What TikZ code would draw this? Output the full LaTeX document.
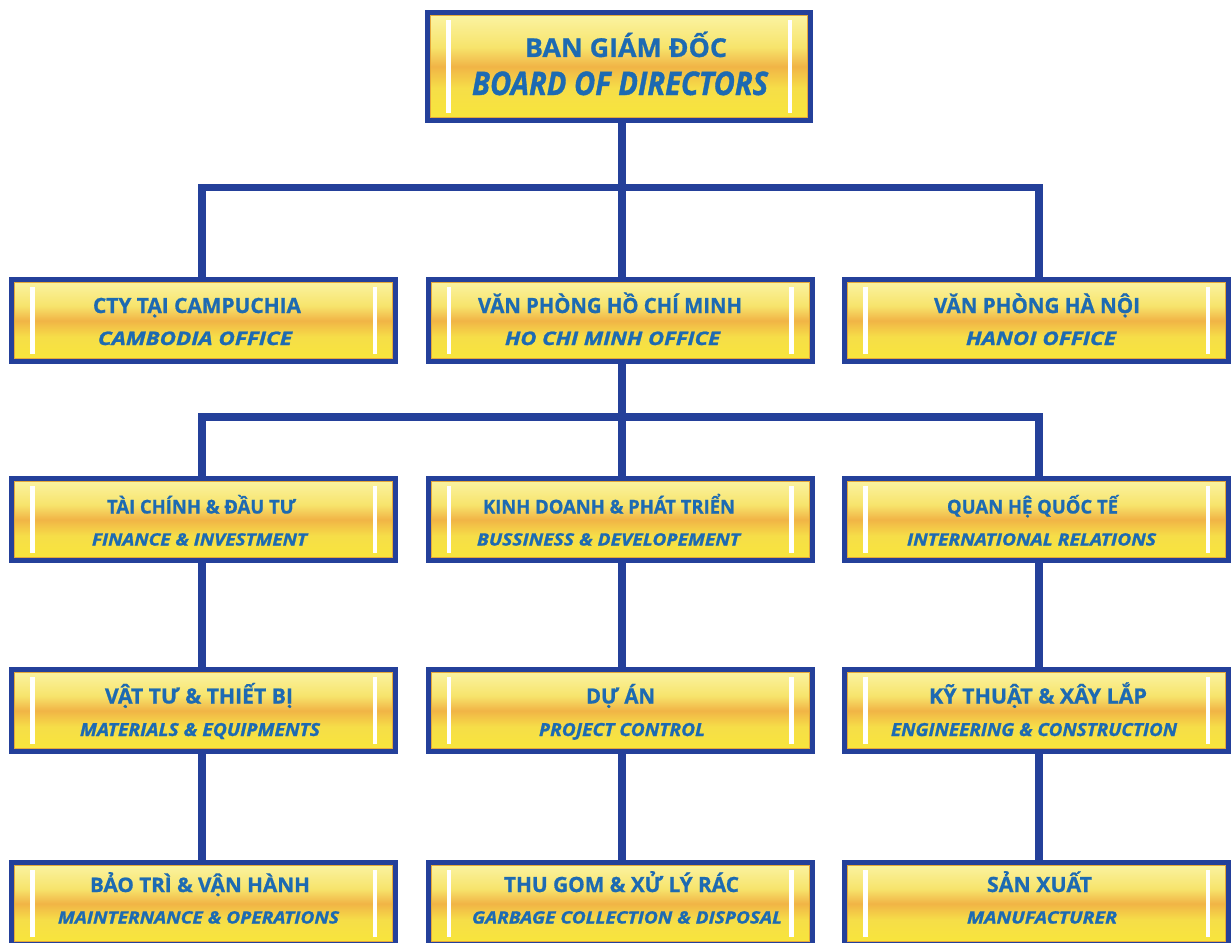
\documentclass[tikz,border=0pt]{standalone}
\usepackage{fontspec}
\setmainfont{Open Sans}[BoldFeatures={FakeBold=0.9}, BoldItalicFeatures={FakeBold=1.2}]
\usepackage{graphicx}
\definecolor{bblue}{HTML}{24409A}
\definecolor{tblue}{HTML}{1D6AB2}
\definecolor{ytop}{HTML}{FBF4A6}
\definecolor{ym2}{HTML}{F7E46C}
\definecolor{ymid}{HTML}{F1B446}
\definecolor{yb2}{HTML}{F6DE48}
\definecolor{ybot}{HTML}{F8E63A}
\definecolor{yorl}{HTML}{E4A83A}
\pgfdeclareverticalshading{boxshade}{100bp}{color(0bp)=(ybot); color(25bp)=(ybot); color(40bp)=(yb2); color(50bp)=(ymid); color(59bp)=(ym2); color(75bp)=(ytop); color(100bp)=(ytop)}
\pgfdeclarelayer{bg}
\pgfsetlayers{bg,main}
\newcommand\fitw[2]{\resizebox{#1pt}{\height}{#2}}
\newcommand\fsu[1]{\bfseries\fontsize{#1}{#1}\selectfont}
\newcommand\fsi[1]{\bfseries\itshape\fontsize{#1}{#1}\selectfont}
\tikzset{
  orgbox/.style={draw=bblue, line width=5pt, shading=boxshade, inner sep=0pt,
    minimum width=384pt, minimum height=82pt,
    path picture={
      \fill[white] ([shift={(18.5,7.5)}]path picture bounding box.north west) rectangle ([shift={(23,-7.5)}]path picture bounding box.south west);
      \fill[white] ([shift={(-18.5,7.5)}]path picture bounding box.north east) rectangle ([shift={(-23,-7.5)}]path picture bounding box.south east);
      \draw[yorl, line width=1pt] ([shift={(3,3)}]path picture bounding box.north west) rectangle ([shift={(-3,-3)}]path picture bounding box.south east);
    }},
  conn/.style={draw=bblue, line width=7.5pt},
  txt/.style={text=tblue, anchor=base, inner sep=0pt}
}
\begin{document}
\begin{tikzpicture}[x=1pt, y=-1pt]
\useasboundingbox (0,0) rectangle (1231,942);
\clip (0,0) rectangle (1231,942);
\coordinate (xL) at (202,0);
\coordinate (xR) at (1039,0);
\coordinate (jA) at (622,187.5);
\coordinate (jB) at (622,417);
% boxes
\node[orgbox, minimum width=383pt, minimum height=108pt] (top) at (619,66.5) {};
\node[orgbox] (cam) at (203.5,320.5) {};
\node[orgbox] (hcm) at (620,320.5) {};
\node[orgbox] (hn) at (1036.5,320.5) {};
\node[orgbox] (fi) at (203.5,519.5) {};
\node[orgbox] (kd) at (620,519.5) {};
\node[orgbox] (qh) at (1036.5,519.5) {};
\node[orgbox] (vt) at (203.5,710.5) {};
\node[orgbox] (da) at (620,710.5) {};
\node[orgbox] (kt) at (1036.5,710.5) {};
\node[orgbox] (bt) at (203.5,903.5) {};
\node[orgbox] (tg) at (620,903.5) {};
\node[orgbox] (sx) at (1036.5,903.5) {};
% connectors
\begin{pgfonlayer}{bg}
\draw[conn] (top.south -| jA) -- (hcm.north -| jA);
\draw[conn] (cam.north -| xL) |- (jA) -| (hn.north -| xR);
\draw[conn] (hcm.south -| jB) -- (kd.north -| jB);
\draw[conn] (fi.north -| xL) |- (jB) -| (qh.north -| xR);
\draw[conn] (fi.south -| xL) -- (vt.north -| xL);
\draw[conn] (vt.south -| xL) -- (bt.north -| xL);
\draw[conn] (kd.south -| jB) -- (da.north -| jB);
\draw[conn] (da.south -| jB) -- (tg.north -| jB);
\draw[conn] (qh.south -| xR) -- (kt.north -| xR);
\draw[conn] (kt.south -| xR) -- (sx.north -| xR);
\end{pgfonlayer}
% texts
\node[txt, font=\fsu{26}] (topa) at (626,57) {\fitw{202}{BAN GIÁM ĐỐC}};
\node[txt, font=\fsi{32.5}] (topb) at (620,95) {\fitw{296}{BOARD OF DIRECTORS}};
\node[txt, font=\fsu{21}] (cama) at (197,313) {\fitw{208}{CTY TẠI CAMPUCHIA}};
\node[txt, font=\fsi{18.6}] (camb) at (195,345) {\fitw{194}{CAMBODIA OFFICE}};
\node[txt, font=\fsu{21}] (hcma) at (610,313) {\fitw{264}{VĂN PHÒNG HỒ CHÍ MINH}};
\node[txt, font=\fsi{18.6}] (hcmb) at (612.5,345) {\fitw{215}{HO CHI MINH OFFICE}};
\node[txt, font=\fsu{21}] (hna) at (1037,313) {\fitw{206}{VĂN PHÒNG HÀ NỘI}};
\node[txt, font=\fsi{18.6}] (hnb) at (1041,345) {\fitw{150}{HANOI OFFICE}};
\node[txt, font=\fsu{19}] (fia) at (201.5,513.5) {\fitw{189}{TÀI CHÍNH \& ĐẦU TƯ}};
\node[txt, font=\fsi{17}] (fib) at (199.5,545.5) {\fitw{215}{FINANCE \& INVESTMENT}};
\node[txt, font=\fsu{19}] (kda) at (609,513.5) {\fitw{252}{KINH DOANH \& PHÁT TRIỂN}};
\node[txt, font=\fsi{17}] (kdb) at (608.5,545.5) {\fitw{263}{BUSSINESS \& DEVELOPEMENT}};
\node[txt, font=\fsu{19}] (qha) at (1032.5,513.5) {\fitw{171}{QUAN HỆ QUỐC TẾ}};
\node[txt, font=\fsi{17}] (qhb) at (1031.5,545.5) {\fitw{249}{INTERNATIONAL RELATIONS}};
\node[txt, font=\fsu{21}] (vta) at (199,703.5) {\fitw{188}{VẬT TƯ \& THIẾT BỊ}};
\node[txt, font=\fsi{18}] (vtb) at (200,736) {\fitw{240}{MATERIALS \& EQUIPMENTS}};
\node[txt, font=\fsu{21}] (daa) at (620.5,703.5) {\fitw{69}{DỰ ÁN}};
\node[txt, font=\fsi{18}] (dab) at (622,736) {\fitw{166}{PROJECT CONTROL}};
\node[txt, font=\fsu{21}] (kta) at (1038,703.5) {\fitw{218}{KỸ THUẬT \& XÂY LẮP}};
\node[txt, font=\fsi{18}] (ktb) at (1034,736) {\fitw{286}{ENGINEERING \& CONSTRUCTION}};
\node[txt, font=\fsu{20}] (bta) at (200,892) {\fitw{220}{BẢO TRÌ \& VẬN HÀNH}};
\node[txt, font=\fsi{17}] (btb) at (198.5,923.5) {\fitw{281}{MAINTERNANCE \& OPERATIONS}};
\node[txt, font=\fsu{21}] (tga) at (621.5,892) {\fitw{235}{THU GOM \& XỬ LÝ RÁC}};
\node[txt, font=\fsi{17}] (tgb) at (627,923.5) {\fitw{310}{GARBAGE COLLECTION \& DISPOSAL}};
\node[txt, font=\fsu{21}] (sxa) at (1039.5,892) {\fitw{105}{SẢN XUẤT}};
\node[txt, font=\fsi{17}] (sxb) at (1042,923.5) {\fitw{150}{MANUFACTURER}};
\end{tikzpicture}
\end{document}
